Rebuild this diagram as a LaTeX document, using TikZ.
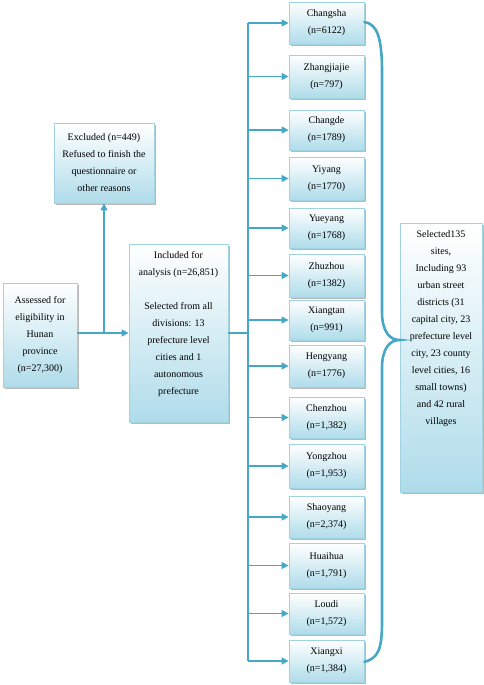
\documentclass[tikz,border=0pt]{standalone}
\usepackage{fontspec}
\setmainfont{Liberation Serif}
\usetikzlibrary{arrows.meta,shadows}
\definecolor{lineblue}{RGB}{70,168,198}
\definecolor{boxfill}{RGB}{175,220,234}
\definecolor{boxborder}{RGB}{160,210,225}
\tikzset{
  box/.style={draw=boxborder, line width=0.8pt, top color=white, bottom color=boxfill,
    drop shadow={shadow xshift=1.6pt, shadow yshift=-1.8pt, fill=black!45, opacity=0.6},
    align=center, inner sep=0pt, font=\fontsize{10}{17}\selectfont},
  city/.style={box, minimum width=75pt},
  conn/.style={draw=lineblue, line width=1.4pt},
  arr/.style={conn, -{Triangle[length=7pt,width=7pt]}},
  brace/.style={draw=lineblue, line width=2.6pt, line cap=round}
}
\begin{document}
\begin{tikzpicture}[x=1pt,y=-1pt]
\useasboundingbox (0,0) rectangle (484,685);
% left boxes
\node[box, minimum width=100pt, minimum height=80pt] (exc) at (104,163)
  {Excluded (n=449)\\Refused to finish the\\questionnaire or\\other reasons};
\node[box, minimum width=74pt, minimum height=104pt] (ass) at (40,335)
  {Assessed for\\eligibility in\\Hunan\\province\\ (n=27,300)};
\node[box, minimum width=99pt, minimum height=178pt] (inc) at (178.5,333)
  {\parbox[c][178pt][t]{97pt}{\centering\vspace*{7pt}Included for\\analysis (n=26,851)\\[17pt]Selected from all\\divisions: 13\\prefecture level\\cities and 1\\autonomous\\prefecture}};
\node[box, minimum width=82pt, minimum height=269pt] (sel) at (441,357.5)
  {\parbox[c][269pt][t]{80pt}{\centering\vspace*{7.5pt}Selected135\\sites,\\Including 93\\urban street\\districts (31\\capital city, 23\\prefecture level\\city, 23 county\\level cities, 16\\small towns)\\and 42 rural\\villages}};
% city boxes
\node[city, minimum height=42pt] (c1) at (326.5,23) {Changsha\\(n=6122)};
\node[city, minimum height=43pt] (c2) at (326.5,76.5) {Zhangjiajie\\(n=797)};
\node[city, minimum height=40pt] (c3) at (326.5,130) {Changde\\(n=1789)};
\node[city, minimum height=43pt] (c4) at (326.5,178.5) {Yiyang\\(n=1770)};
\node[city, minimum height=40pt] (c5) at (326.5,228) {Yueyang\\(n=1768)};
\node[city, minimum height=43pt] (c6) at (326.5,275.5) {Zhuzhou\\(n=1382)};
\node[city, minimum height=40pt] (c7) at (326.5,320) {Xiangtan\\(n=991)};
\node[city, minimum height=42pt] (c8) at (326.5,366) {Hengyang\\(n=1776)};
\node[city, minimum height=41pt] (c9) at (326.5,417.5) {Chenzhou\\(n=1,382)};
\node[city, minimum height=44pt] (c10) at (326.5,466) {Yongzhou\\(n=1,953)};
\node[city, minimum height=42pt] (c11) at (326.5,517) {Shaoyang\\(n=2,374)};
\node[city, minimum height=45pt] (c12) at (326.5,565.5) {Huaihua\\(n=1,791)};
\node[city, minimum height=41pt] (c13) at (326.5,613.5) {Loudi\\(n=1,572)};
\node[city, minimum height=42pt] (c14) at (326.5,661) {Xiangxi\\(n=1,384)};
% connectors left
\coordinate (jn) at (exc.south |- inc.west);
\draw[arr] (ass.east |- inc.west) -- (inc.west);
\draw[arr] (jn) -- (exc.south);
% trunk
\coordinate (tr) at (248,333);
\draw[conn] (inc.east) -- (tr |- inc.east);
\draw[conn] (tr |- c1.west) -- (tr |- c14.west);
\foreach \i in {1,...,14} {
  \draw[arr] (tr |- c\i.west) -- (c\i.west);
}
% brace
\coordinate (b1) at ([yshift=1pt]c1.east);
\coordinate (b2) at ([yshift=-1pt]c14.east);
\coordinate (bt) at (sel.west |- 0,340);
\draw[brace] (b1) .. controls (378,24) and (382,40) .. (382,72) -- (382,312)
  .. controls (382,332) and (390,340) .. (bt)
  .. controls (390,340) and (382,348) .. (382,368) -- (382,622)
  .. controls (382,650) and (378,658) .. (b2);
\end{tikzpicture}
\end{document}
